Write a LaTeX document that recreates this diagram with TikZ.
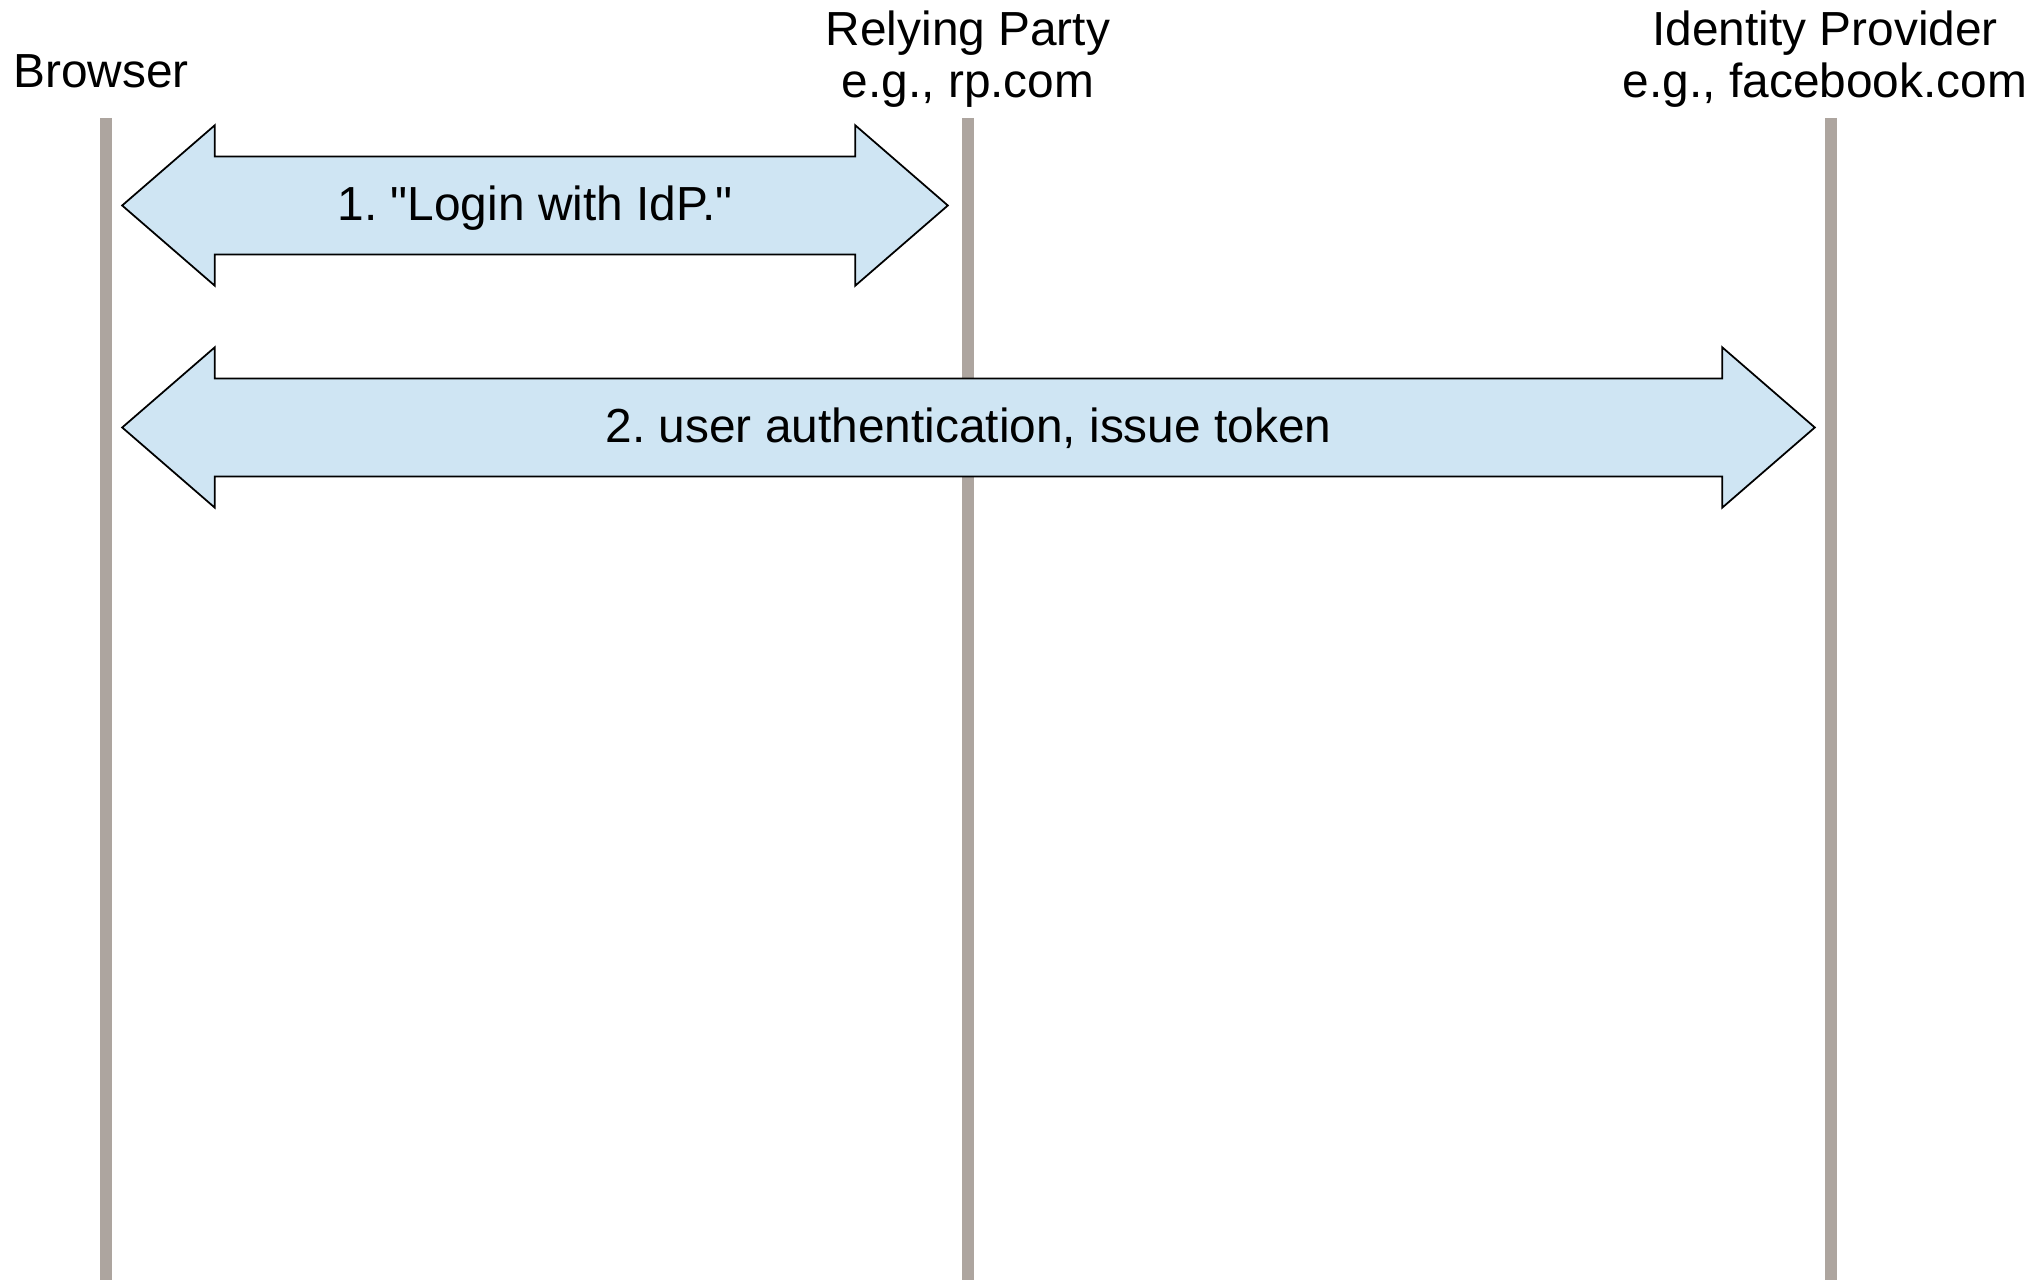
\documentclass[tikz,border=0pt]{standalone}
\usepackage{fontspec}
\setmainfont{Liberation Sans}
\usetikzlibrary{shapes.arrows}
\usetikzlibrary{positioning}
\frenchspacing
\definecolor{lifegray}{HTML}{ADA59F}
\definecolor{msgblue}{HTML}{CFE5F3}
\tikzstyle{party} = [
    align=center, 
    inner sep=0pt, 
    font=\fontsize{13.6pt}{14.8pt}\selectfont
]
\tikzstyle{lifeline} = [
    draw=lifegray, 
    line width=0.115cm
]
\tikzstyle{message} = [
    double arrow, 
    draw=black, 
    fill=msgblue, 
    line width=0.5pt, 
    inner xsep=0pt, 
    inner ysep=0.28cm, % gives the shaft its height
    text height=0.35cm, 
    text depth=0.05cm, 
    double arrow head extend=0.312cm, 
    double arrow tip angle=81.8, 
    minimum width=1.584cm, 
    font=\fontsize{13.6pt}{14.8pt}\selectfont
]

\begin{document}
\begin{tikzpicture}[x=0.01cm, y=-0.01cm]
\useasboundingbox (0,0) rectangle (2033,1280);

% parties (base is the last line)
\node [party, anchor=base] (browser) at (101,88) {Browser};
\node [party, anchor=base] (rp) at (968,98) {Relying Party\\e.g., rp.com};
\node [party, anchor=base] (idp) at (1825,98) {Identity Provider\\e.g., facebook.com};

% lifelines
\coordinate (browser_top) at (106,118);
\coordinate (browser_end) at (106,1280);
\coordinate (rp_top) at (968,118);
\coordinate (rp_end) at (968,1280);
\coordinate (idp_top) at (1831,118);
\coordinate (idp_end) at (1831,1280);
\draw [lifeline] (browser_top) -- (browser_end);
\draw [lifeline] (rp_top) -- (rp_end);
\draw [lifeline] (idp_top) -- (idp_end);

% messages
\node [message, minimum height=8.252cm] (login) at (535,205.5) {1. \textquotedbl Login with IdP.\textquotedbl};
\node [message, minimum height=16.916cm] (auth) at (968.5,427.5) {2. user authentication, issue token};
\end{tikzpicture}
\end{document}
